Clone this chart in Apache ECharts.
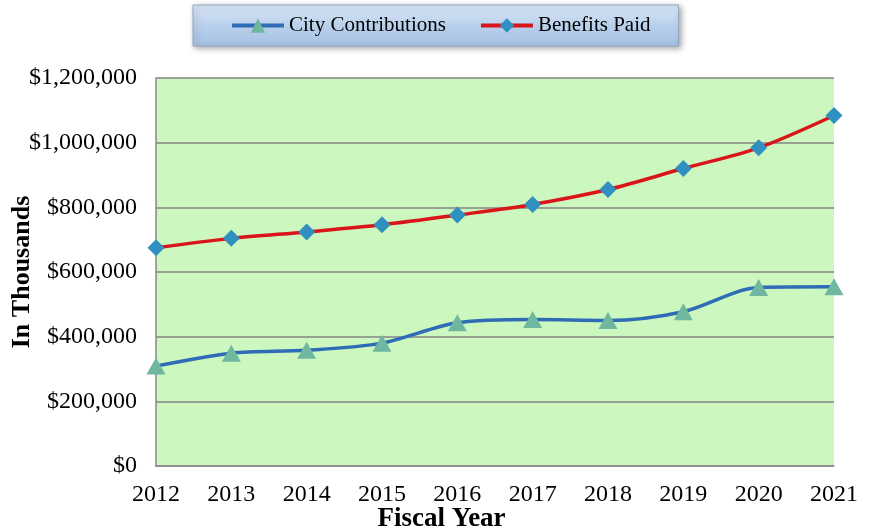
<!DOCTYPE html>
<html>
<head>
<meta charset="utf-8">
<script src="https://cdn.jsdelivr.net/npm/echarts@6/dist/echarts.min.js"></script>
<style>
html,body{margin:0;padding:0;background:#fff;}
#main{width:871px;height:531px;}
</style>
</head>
<body>
<div id="main"></div>
<script>
// 年度
var years = ['2012','2013','2014','2015','2016','2017','2018','2019','2020','2021'];
// 市政缴款（千美元）
var cityContributions = [309000, 349000, 358000, 380000, 443000, 453000, 450000, 477000, 552000, 554000];
// 支付福利（千美元）
var benefitsPaid = [675000, 704000, 724000, 746000, 776000, 809000, 855000, 920000, 984000, 1084000];

var font = '"Times New Roman", "Liberation Serif", serif';

function money(v){
	return '$' + String(v).replace(/\B(?=(\d{3})+(?!\d))/g, ',');
}

var myChart = echarts.init(document.getElementById('main'));
var option = {
	animation: false,
	textStyle: { fontFamily: font },
	legend: {
		left: 193,
		top: 5,
		padding: [10, 28, 10, 37],
		itemGap: 33,
		itemWidth: 52,
		itemHeight: 18,
		lineStyle: { width: 4 },
		backgroundColor: {
			type: 'linear', x: 0, y: 0, x2: 0, y2: 1,
			colorStops: [
				{ offset: 0, color: '#dbe8f6' },
				{ offset: 0.5, color: '#b9d0ec' },
				{ offset: 1, color: '#a6c1e4' }
			]
		},
		borderColor: '#8fa6c4',
		borderWidth: 1,
		shadowBlur: 6,
		shadowColor: 'rgba(0,0,0,0.35)',
		shadowOffsetX: 2,
		shadowOffsetY: 2,
		textStyle: { fontFamily: font, fontSize: 21, color: '#000' },
		data: ['City Contributions', 'Benefits Paid']
	},
	grid: {
		left: 156,
		right: 37,
		top: 78,
		bottom: 65,
		outerBoundsMode: 'none',
		containLabel: false,
		show: true,
		backgroundColor: '#ccf7be',
		borderWidth: 0
	},
	xAxis: {
		type: 'category',
		boundaryGap: false,
		data: years,
		name: 'Fiscal Year',
		nameLocation: 'middle',
		nameGap: 40,
		nameMoveOverlap: false,
		nameTextStyle: { fontFamily: font, fontSize: 27, fontWeight: 'bold', color: '#000', padding: [0, 107, 0, 0] },
		axisLine: { lineStyle: { color: '#8a8a8a', width: 1.5 } },
		axisTick: { show: false },
		axisLabel: { fontFamily: font, fontSize: 24, color: '#000', margin: 17 }
	},
	yAxis: {
		type: 'value',
		min: 0,
		max: 1200000,
		interval: 200000,
		name: 'In Thousands',
		nameLocation: 'middle',
		nameGap: 121,
		nameMoveOverlap: false,
		nameTextStyle: { fontFamily: font, fontSize: 26, fontWeight: 'bold', color: '#000' },
		axisLine: { show: true, lineStyle: { color: '#8a8a8a', width: 1.5 } },
		axisTick: { show: false },
		axisLabel: { fontFamily: font, fontSize: 24, color: '#000', margin: 19, formatter: money },
		splitLine: { lineStyle: { color: '#858585', width: 1.5 } }
	},
	series: [
		{
			name: 'City Contributions',
			type: 'line',
			smooth: 0.3,
			data: cityContributions,
			symbol: 'triangle',
			symbolSize: [19, 17],
			lineStyle: { color: '#2f6cb8', width: 3.5 },
			itemStyle: { color: '#70b7a0' },
			z: 3
		},
		{
			name: 'Benefits Paid',
			type: 'line',
			smooth: 0.3,
			data: benefitsPaid,
			symbol: 'diamond',
			symbolSize: [17, 17],
			lineStyle: { color: '#d9141b', width: 3.5 },
			itemStyle: { color: '#3090bf' },
			z: 3
		}
	]
};
myChart.setOption(option);
window.addEventListener('resize', function(){
	myChart.resize();
});
</script>
</body>
</html>
